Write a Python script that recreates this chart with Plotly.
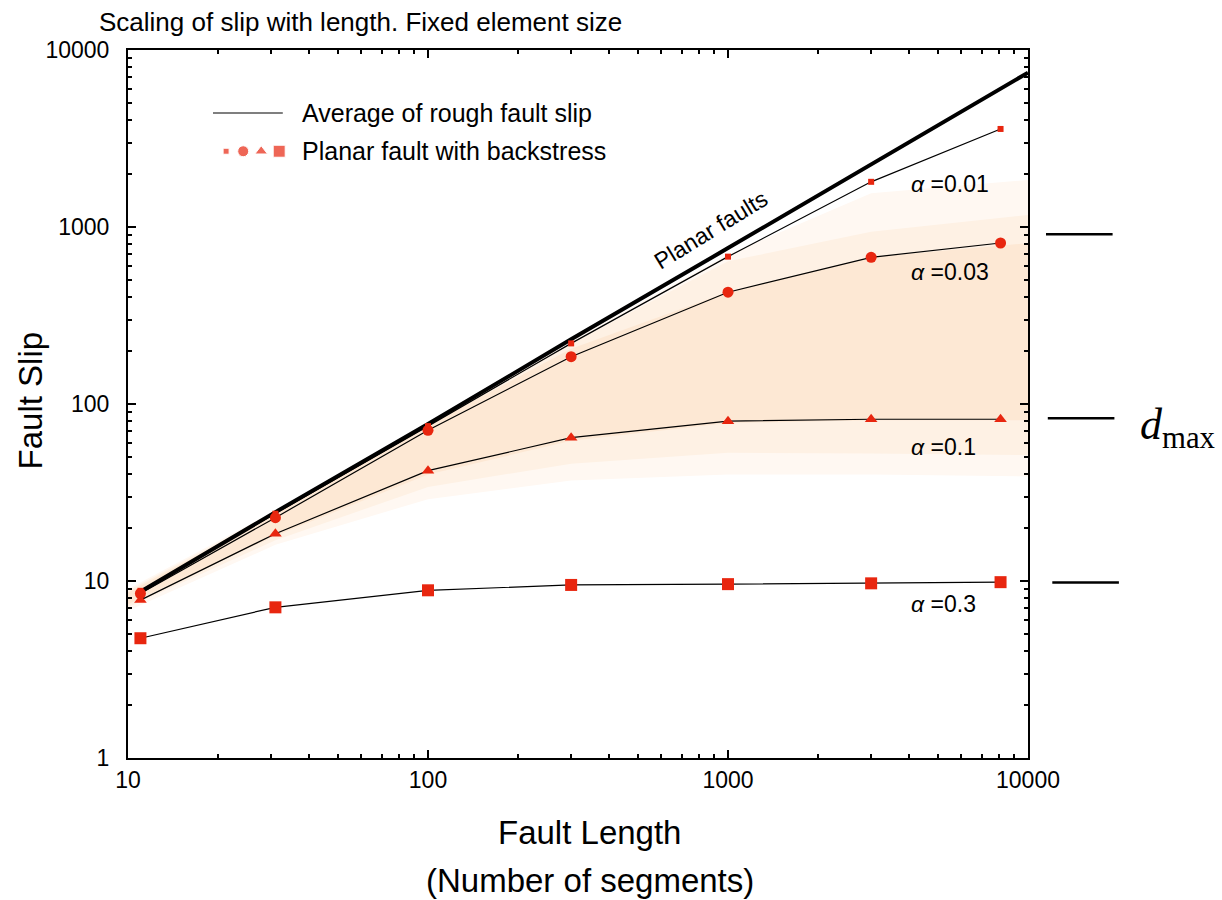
import numpy as np
import plotly.graph_objects as go

# ---------------- data ----------------
fault_length = [11, 31, 100, 300, 1000, 3000, 8100]
slip_a001 = [8.8, 24, 75, 220, 680, 1800, 3580]
slip_a003 = [8.5, 22.8, 71, 185, 428, 674, 812]
slip_a01 = [7.8, 18.5, 42, 64.5, 80, 82, 82]
slip_a03 = [4.75, 7.1, 8.86, 9.5, 9.6, 9.7, 9.85]

planar_length = [11, 31, 100, 300, 1000, 3000, 10000]
planar_slip = [8.7, 24.5, 77, 232, 760, 2250, 7450]

band_length = [10, 31, 100, 300, 1000, 3000, 10000]
inner_top = [8.6, 24, 76, 205, 430, 675, 810]
inner_bot = [7.4, 18, 40, 62, 78, 81, 81]
mid_top = [8.8, 24.5, 77, 220, 640, 940, 1170]
mid_bot = [7.1, 17, 34, 46, 53, 52.5, 51.5]
outer_top = [9.0, 25, 78, 228, 700, 1550, 1845]
outer_bot = [6.8, 16, 29, 37, 40, 40, 39]

dmax_levels = [910, 83, 9.8]

alpha_labels = ["<i>α</i> =0.01", "<i>α</i> =0.03", "<i>α</i> =0.1", "<i>α</i> =0.3"]
alpha_label_y = [1750, 557, 57, 7.4]
alpha_label_x = 4000

x_ticks = [10, 100, 1000, 10000]
y_ticks = [1, 10, 100, 1000, 10000]

RED = "#E8260F"
FONT = "Liberation Sans, Arial, Helvetica, sans-serif"
SERIF = "Liberation Serif, Times New Roman, serif"

fig = go.Figure()

def band(top, bot, color):
    fig.add_trace(go.Scatter(
        x=band_length + band_length[::-1],
        y=top + bot[::-1],
        fill="toself", fillcolor=color, mode="lines",
        line=dict(width=0, color=color), hoverinfo="skip", showlegend=False))

band(outer_top, outer_bot, "#FFF8F2")
band(mid_top, mid_bot, "#FEF1E4")
band(inner_top, inner_bot, "#FDE8D4")

# planar line
fig.add_trace(go.Scatter(x=planar_length, y=planar_slip, mode="lines",
                         line=dict(color="black", width=4), showlegend=False))

series = [
    (slip_a001, "square", 6),
    (slip_a003, "circle", 11),
    (slip_a01, "triangle-up", 11),
    (slip_a03, "square", 12),
]
for ys, sym, sz in series:
    fig.add_trace(go.Scatter(
        x=fault_length, y=ys, mode="lines+markers",
        line=dict(color="black", width=1.2),
        marker=dict(symbol=sym, size=sz, color=RED, line=dict(width=0)),
        showlegend=False, cliponaxis=False))

# custom legend on an overlay [0,1] axis pair
leg_syms = ["square", "circle", "triangle-up", "square"]
leg_sizes = [6, 11, 11, 12]
leg_x = [0.109, 0.128, 0.148, 0.168]
fig.add_trace(go.Scatter(x=[0.0944, 0.172], y=[0.911, 0.911], mode="lines",
                         line=dict(color="black", width=1.2),
                         xaxis="x2", yaxis="y2", showlegend=False))
fig.add_trace(go.Scatter(x=leg_x, y=[0.857] * 4, mode="markers",
                         marker=dict(symbol=leg_syms, size=leg_sizes, color=RED),
                         xaxis="x2", yaxis="y2", showlegend=False))

annotations = [
    dict(xref="x2", yref="y2", x=0.191, y=0.911, text="Average of rough fault slip",
         showarrow=False, xanchor="left", yanchor="middle", font=dict(size=25)),
    dict(xref="x2", yref="y2", x=0.191, y=0.857, text="Planar fault with backstress",
         showarrow=False, xanchor="left", yanchor="middle", font=dict(size=25)),
    dict(x=np.log10(875), y=np.log10(960), text="Planar faults", textangle=-31.5,
         showarrow=False, font=dict(size=23)),
    dict(xref="paper", yref="paper", x=-0.034, y=1.0395, text="Scaling of slip with length. Fixed element size",
         showarrow=False, xanchor="left", yanchor="middle", font=dict(size=26)),
    dict(xref="paper", yref="paper", x=0, y=0.505, text="Fault Slip", textangle=-90,
         showarrow=False, xanchor="center", yanchor="middle", font=dict(size=33),
         xshift=-98),
    dict(xref="paper", yref="paper", x=0.513, y=0, text="Fault Length",
         showarrow=False, xanchor="center", yanchor="middle", font=dict(size=33), yshift=-74),
    dict(xref="paper", yref="paper", x=0.513, y=0, text="(Number of segments)",
         showarrow=False, xanchor="center", yanchor="middle", font=dict(size=33), yshift=-122),
    dict(xref="paper", yref="y", x=1.122, y=np.log10(dmax_levels[1]) - 0.05,
         text="<i>d</i><sub>max</sub>", showarrow=False, xanchor="left", yanchor="middle",
         font=dict(size=44, family=SERIF)),
]
for lab, yv in zip(alpha_labels, alpha_label_y):
    annotations.append(dict(x=np.log10(alpha_label_x), y=np.log10(yv), text=lab,
                            showarrow=False, xanchor="left", yanchor="middle",
                            font=dict(size=23)))

shapes = []
dmax_x0 = [1.020, 1.022, 1.027]
for lv, x0 in zip(dmax_levels, dmax_x0):
    shapes.append(dict(type="line", xref="paper", yref="y", x0=x0, x1=x0 + 0.074,
                       y0=lv, y1=lv, line=dict(color="black", width=2.5)))

minor_x = [v * m for v in [10, 100, 1000] for m in range(2, 10)]
minor_y = [v * m for v in [1, 10, 100, 1000] for m in range(2, 10)]

axis_common = dict(
    type="log", showgrid=False, zeroline=False, showline=True, linecolor="black",
    linewidth=2, mirror="ticks", ticks="inside", ticklen=8, tickwidth=1.5,
    tickcolor="black", tickfont=dict(size=23, color="black"),
)

fig.update_layout(
    width=1222, height=900,
    margin=dict(l=128, r=194, t=50, b=142),
    paper_bgcolor="white", plot_bgcolor="white",
    font=dict(family=FONT, color="black"),
    xaxis=dict(range=[1, 4], tickvals=x_ticks, ticktext=[str(v) for v in x_ticks],
               minor=dict(ticks="inside", ticklen=4, tickvals=minor_x, tickcolor="black"),
               **axis_common),
    yaxis=dict(range=[0, 4], tickvals=y_ticks, ticktext=[str(v) for v in y_ticks],
               ticklabelstandoff=12,
               minor=dict(ticks="inside", ticklen=4, tickvals=minor_y, tickcolor="black"),
               **axis_common),
    xaxis2=dict(overlaying="x", range=[0, 1], visible=False),
    yaxis2=dict(overlaying="y", range=[0, 1], visible=False),
    annotations=annotations,
    shapes=shapes,
    showlegend=False,
)

fig.write_html("out.html")
